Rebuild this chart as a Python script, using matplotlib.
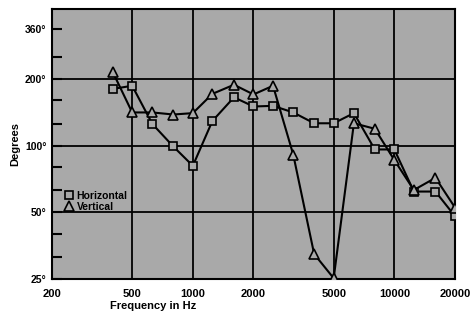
import matplotlib
matplotlib.use("Agg")
import matplotlib.pyplot as plt
from matplotlib.ticker import FixedLocator, NullFormatter

plt.rcParams['font.family'] = ['Liberation Sans', 'DejaVu Sans']

freq_h = [400, 500, 630, 800, 1000, 1250, 1600, 2000, 2500, 3150, 4000, 5000, 6300, 8000, 10000, 12500, 16000, 20000]
deg_h = [180, 186, 125, 99, 81, 129, 165, 150, 151, 141, 126, 126, 140, 96, 96, 62, 62, 48]

freq_v = [400, 500, 630, 800, 1000, 1250, 1600, 2000, 2500, 3150, 4000, 5000, 6300, 8000, 10000, 12500, 16000, 20000]
deg_v = [215, 141, 141, 138, 140, 171, 188, 170, 186, 91, 32.4, 25.2, 126, 119, 86, 63, 71.5, 52.5]

x_ticks = [200, 500, 1000, 2000, 5000, 10000, 20000]
x_labels = ['200', '500', '1000', '2000', '5000', '10000', '20000']
y_ticks = [25, 50, 100, 200, 336]
y_labels = ['25°', '50°', '100°', '200°', '360°']
y_minor = [31.5, 40, 63, 80, 125, 160, 250]

bg = '#a9a9a9'
fig = plt.figure(figsize=(4.71, 3.14), dpi=100)
ax = fig.add_axes([0.1104, 0.1115, 0.8556, 0.8599])
ax.set_facecolor(bg)
ax.set_xscale('log')
ax.set_yscale('log')
ax.set_xlim(200, 20000)
ax.set_ylim(25, 413)

for xv in [500, 1000, 2000, 5000, 10000]:
    ax.axvline(xv, color='black', lw=1.3, zorder=1)
for yv in [50, 100, 200]:
    ax.axhline(yv, color='black', lw=1.3, zorder=1)

ax.plot(freq_h, deg_h, color='black', lw=1.5, marker='s', ms=6.3,
        mfc=bg, mec='black', mew=1.2, label='Horizontal', zorder=3)
ax.plot(freq_v, deg_v, color='black', lw=1.5, marker='^', ms=7.5,
        mfc=bg, mec='black', mew=1.2, label='Vertical', zorder=3)

ax.xaxis.set_major_locator(FixedLocator(x_ticks))
ax.set_xticklabels(x_labels, fontsize=8, fontweight='bold')
ax.xaxis.set_minor_locator(FixedLocator([]))
ax.tick_params(axis='x', which='both', length=0, pad=7)

ax.yaxis.set_major_locator(FixedLocator(y_ticks))
ax.set_yticklabels(y_labels, fontsize=7.5, fontweight='bold')
ax.yaxis.set_minor_locator(FixedLocator(y_minor))
ax.yaxis.set_minor_formatter(NullFormatter())
ax.tick_params(axis='y', which='both', direction='in', length=7, width=1.5, pad=4)

for s in ax.spines.values():
    s.set_linewidth(1.5)

ax.set_xlabel('Frequency in Hz', fontsize=8, fontweight='bold')
ax.xaxis.set_label_coords(0.25, -0.08)
ax.set_ylabel('Degrees', fontsize=8, fontweight='bold')
ax.yaxis.set_label_coords(-0.078, 0.5)

leg = ax.legend(loc='upper left', bbox_to_anchor=(0.02, 0.345), frameon=False,
                prop={'size': 7.5, 'weight': 'bold'}, handlelength=0.8,
                handletextpad=0.3, labelspacing=0.05, borderpad=0,
                markerscale=0.9)
for h in leg.legend_handles:
    h.set_linestyle('none')

fig.savefig('out.png', dpi=100, facecolor='white')
